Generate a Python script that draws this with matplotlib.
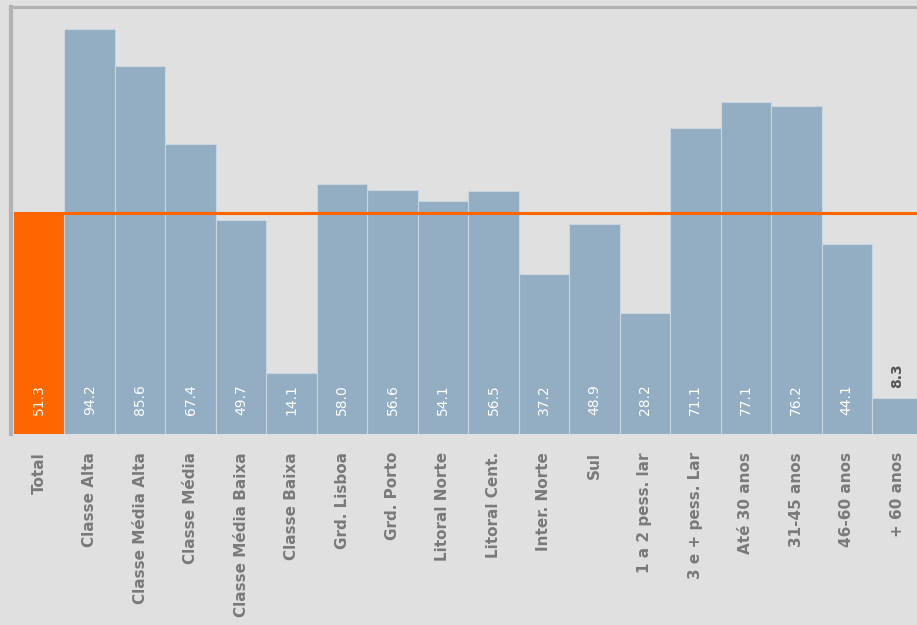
import numpy as np
import matplotlib.pyplot as plt

categories = ["Total", "Classe Alta", "Classe Média Alta", "Classe Média",
              "Classe Média Baixa", "Classe Baixa", "Grd. Lisboa", "Grd. Porto",
              "Litoral Norte", "Litoral Cent.", "Inter. Norte", "Sul",
              "1 a 2 pess. lar", "3 e + pess. Lar", "Até 30 anos", "31-45 anos",
              "46-60 anos", "+ 60 anos"]
values = [51.3, 94.2, 85.6, 67.4, 49.7, 14.1, 58.0, 56.6, 54.1, 56.5,
          37.2, 48.9, 28.2, 71.1, 77.1, 76.2, 44.1, 8.3]
total = 51.3

bg = '#e0e0e0'
blue = '#93adc2'
orange = '#ff6600'

fig = plt.figure(figsize=(9.17, 6.25), dpi=100, facecolor=bg)
ax = fig.add_axes([14 / 917, 191 / 625, 903 / 917, 427 / 625], facecolor=bg)

x = np.arange(len(categories))
colors = [orange] + [blue] * (len(categories) - 1)
edges = [orange] + ['#c9d5df'] * (len(categories) - 1)
ax.bar(x, values, width=1.0, align='edge', color=colors, edgecolor=edges,
       linewidth=0.8, zorder=2)

# reference line at the total
ax.axhline(total, color=orange, linewidth=2.2, zorder=3)

for xi, v in zip(x, values):
    s = f"{v:.1f}"
    if v < 12:
        ax.text(xi + 0.5, v + 2.3, s, rotation=90, ha='center', va='bottom',
                color='#555555', fontsize=10, fontweight='bold', zorder=4)
    else:
        ax.text(xi + 0.5, 7.9, s, rotation=90, ha='center', va='center',
                color='white', fontsize=10, zorder=4)

ax.set_xlim(0, 903 / 50.47)
ax.set_ylim(0, 99.2)
ax.set_yticks([])
ax.set_xticks(x + 0.5)
ax.set_xticklabels(categories, rotation=90, fontsize=11, fontweight='bold',
                   color='#7a7a7a')
ax.tick_params(axis='x', length=0, pad=13)

for side in ['right', 'bottom']:
    ax.spines[side].set_visible(False)
ax.spines['left'].set_color('#b3b3b3')
ax.spines['left'].set_linewidth(3)
ax.spines['left'].set_position(('outward', 2))
ax.spines['top'].set_color('#b3b3b3')
ax.spines['top'].set_linewidth(2.2)

fig.savefig('out.png', dpi=100, facecolor=bg)
